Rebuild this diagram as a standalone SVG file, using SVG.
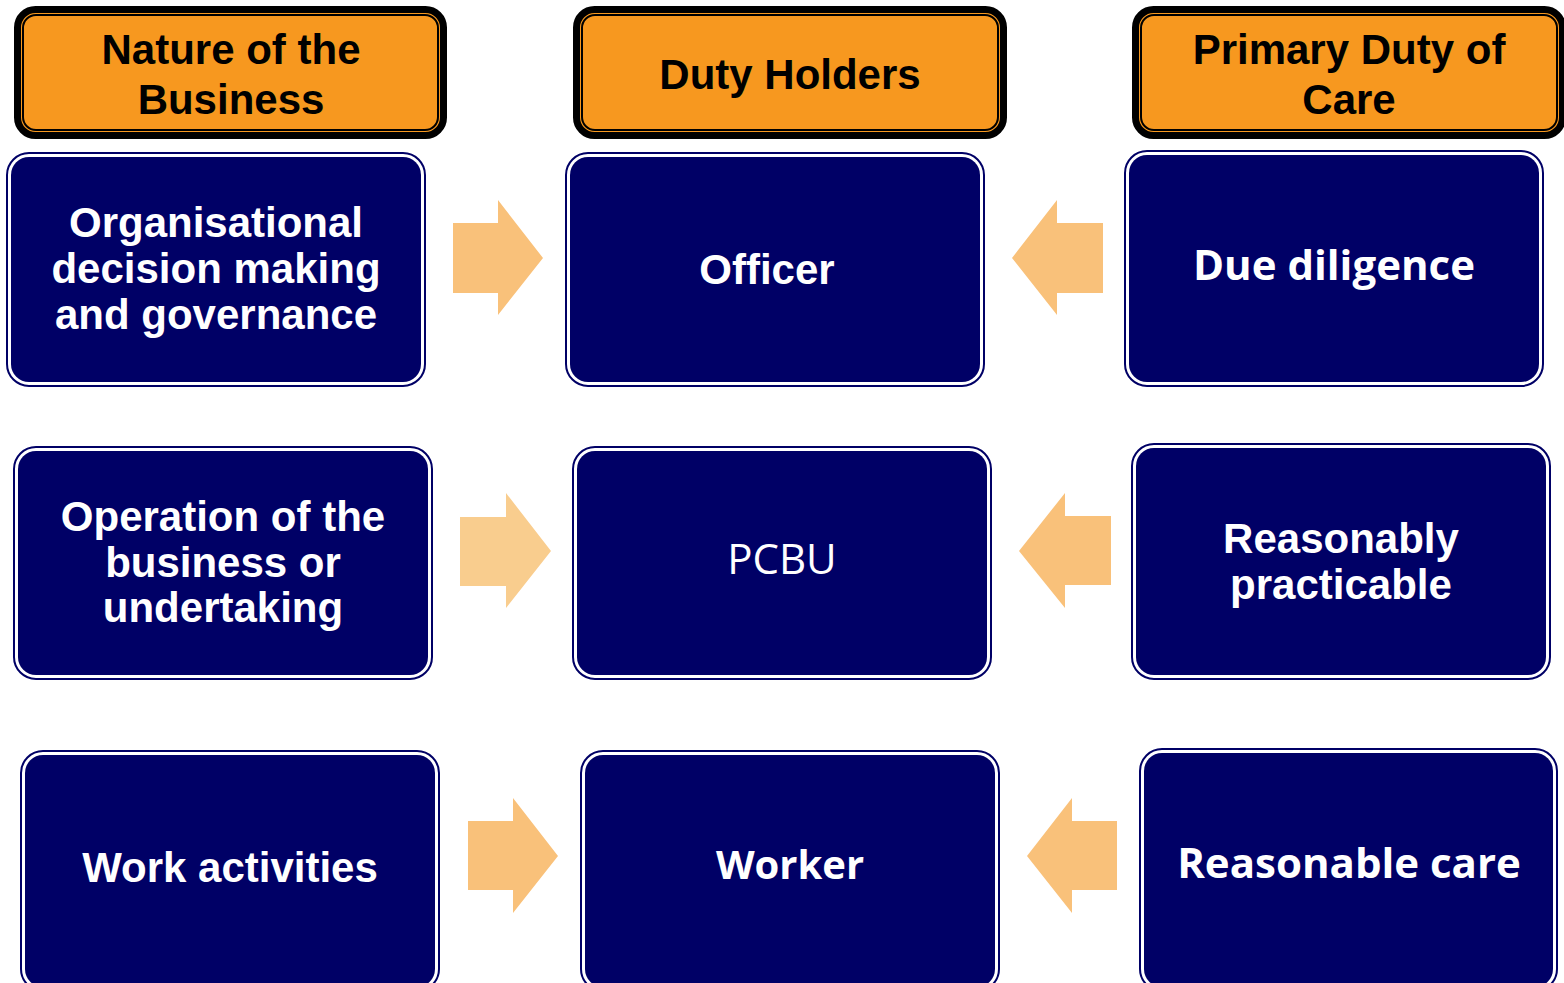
<svg xmlns="http://www.w3.org/2000/svg" width="1564" height="983" viewBox="0 0 1564 983">
  <style>
    .hdr-outer { fill: #F7981F; stroke: #000000; stroke-width: 7; }
    .hdr-inner { fill: none; stroke: #000000; stroke-width: 2; }
    .hdr-text { font-family: "Liberation Sans", Arial, sans-serif; font-weight: bold; font-size: 42px; fill: #000000; text-anchor: middle; }
    .box-outer { fill: #FFFFFF; stroke: #000066; stroke-width: 2; }
    .box-inner { fill: #000066; }
    .lbl { font-family: "Liberation Sans", Arial, sans-serif; font-weight: bold; font-size: 42px; fill: #FFFFFF; text-anchor: middle; }
    .lbl-h { font-family: "Open Sans", "DejaVu Sans", sans-serif; font-weight: 700; font-size: 42px; fill: #FFFFFF; text-anchor: middle; }
    .lbl-w { font-family: "Open Sans", "DejaVu Sans", sans-serif; font-weight: 700; font-size: 40px; fill: #FFFFFF; text-anchor: middle; }
    .lbl-r { font-family: "Open Sans", "DejaVu Sans", sans-serif; font-weight: 500; font-size: 42px; fill: #FFFFFF; text-anchor: middle; }
    .arrow { fill: #F9C17A; }
    .arrow-lt { fill: #F9CD8E; }
  </style>

  <rect width="1564" height="983" fill="#FFFFFF"/>

  <!-- column headers -->
  <g id="hdr-nature">
    <rect class="hdr-outer" x="17.5" y="9.5" width="426" height="126" rx="18"/>
    <rect class="hdr-inner" x="23" y="15" width="415" height="115" rx="13"/>
    <text class="hdr-text" x="231" y="64">Nature of the</text>
    <text class="hdr-text" x="231" y="114">Business</text>
  </g>
  <g id="hdr-duty-holders">
    <rect class="hdr-outer" x="576.5" y="9.5" width="427" height="126" rx="18"/>
    <rect class="hdr-inner" x="582" y="15" width="416" height="115" rx="13"/>
    <text class="hdr-text" x="790" y="89">Duty Holders</text>
  </g>
  <g id="hdr-primary-duty">
    <rect class="hdr-outer" x="1135.5" y="9.5" width="427" height="126" rx="18"/>
    <rect class="hdr-inner" x="1141" y="15" width="416" height="115" rx="13"/>
    <text class="hdr-text" x="1349" y="64">Primary Duty of</text>
    <text class="hdr-text" x="1349" y="114">Care</text>
  </g>

  <!-- row 1 -->
  <g id="node-organisational">
    <rect class="box-outer" x="7" y="153" width="418" height="233" rx="22"/>
    <rect class="box-inner" x="11" y="157" width="410" height="225" rx="18"/>
    <text class="lbl" x="216" y="237">Organisational</text>
    <text class="lbl" x="216" y="283">decision making</text>
    <text class="lbl" x="216" y="329">and governance</text>
  </g>
  <g id="node-officer">
    <rect class="box-outer" x="566" y="153" width="418" height="233" rx="22"/>
    <rect class="box-inner" x="570" y="157" width="410" height="225" rx="18"/>
    <text class="lbl" x="767" y="284">Officer</text>
  </g>
  <g id="node-due-diligence">
    <rect class="box-outer" x="1125" y="151" width="418" height="235" rx="22"/>
    <rect class="box-inner" x="1129" y="155" width="410" height="227" rx="18"/>
    <text class="lbl-h" x="1334" y="280">Due diligence</text>
  </g>

  <!-- row 2 -->
  <g id="node-operation">
    <rect class="box-outer" x="14" y="447" width="418" height="232" rx="22"/>
    <rect class="box-inner" x="18" y="451" width="410" height="224" rx="18"/>
    <text class="lbl" x="223" y="531">Operation of the</text>
    <text class="lbl" x="223" y="577">business or</text>
    <text class="lbl" x="223" y="622">undertaking</text>
  </g>
  <g id="node-pcbu">
    <rect class="box-outer" x="573" y="447" width="418" height="232" rx="22"/>
    <rect class="box-inner" x="577" y="451" width="410" height="224" rx="18"/>
    <text class="lbl-r" x="782" y="574">PCBU</text>
  </g>
  <g id="node-reasonably-practicable">
    <rect class="box-outer" x="1132" y="444" width="418" height="235" rx="22"/>
    <rect class="box-inner" x="1136" y="448" width="410" height="227" rx="18"/>
    <text class="lbl" x="1341" y="553">Reasonably</text>
    <text class="lbl" x="1341" y="599">practicable</text>
  </g>

  <!-- row 3 (runs past the lower edge) -->
  <g id="node-work-activities">
    <rect class="box-outer" x="21" y="751" width="418" height="240" rx="22"/>
    <rect class="box-inner" x="25" y="755" width="410" height="232" rx="18"/>
    <text class="lbl" x="230" y="882">Work activities</text>
  </g>
  <g id="node-worker">
    <rect class="box-outer" x="581" y="751" width="418" height="240" rx="22"/>
    <rect class="box-inner" x="585" y="755" width="410" height="232" rx="18"/>
    <text class="lbl-w" x="790" y="879">Worker</text>
  </g>
  <g id="node-reasonable-care">
    <rect class="box-outer" x="1140" y="749" width="417" height="242" rx="22"/>
    <rect class="box-inner" x="1144" y="753" width="409" height="234" rx="18"/>
    <text class="lbl-h" x="1349" y="878">Reasonable care</text>
  </g>

  <!-- block arrows between columns -->
  <g id="connectors">
    <polygon class="arrow" points="453,223 498,223 498,200 543,258 498,315 498,293 453,293"/>
    <polygon class="arrow" points="1103,223 1057,223 1057,200 1012,258 1057,315 1057,293 1103,293"/>
    <polygon class="arrow-lt" points="460,517 506,517 506,493 551,551 506,608 506,586 460,586"/>
    <polygon class="arrow" points="1111,516 1065,516 1065,493 1019,551 1065,608 1065,585 1111,585"/>
    <polygon class="arrow" points="468,821 513,821 513,798 558,856 513,913 513,890 468,890"/>
    <polygon class="arrow" points="1117,821 1072,821 1072,798 1027,856 1072,913 1072,890 1117,890"/>
  </g>
</svg>
